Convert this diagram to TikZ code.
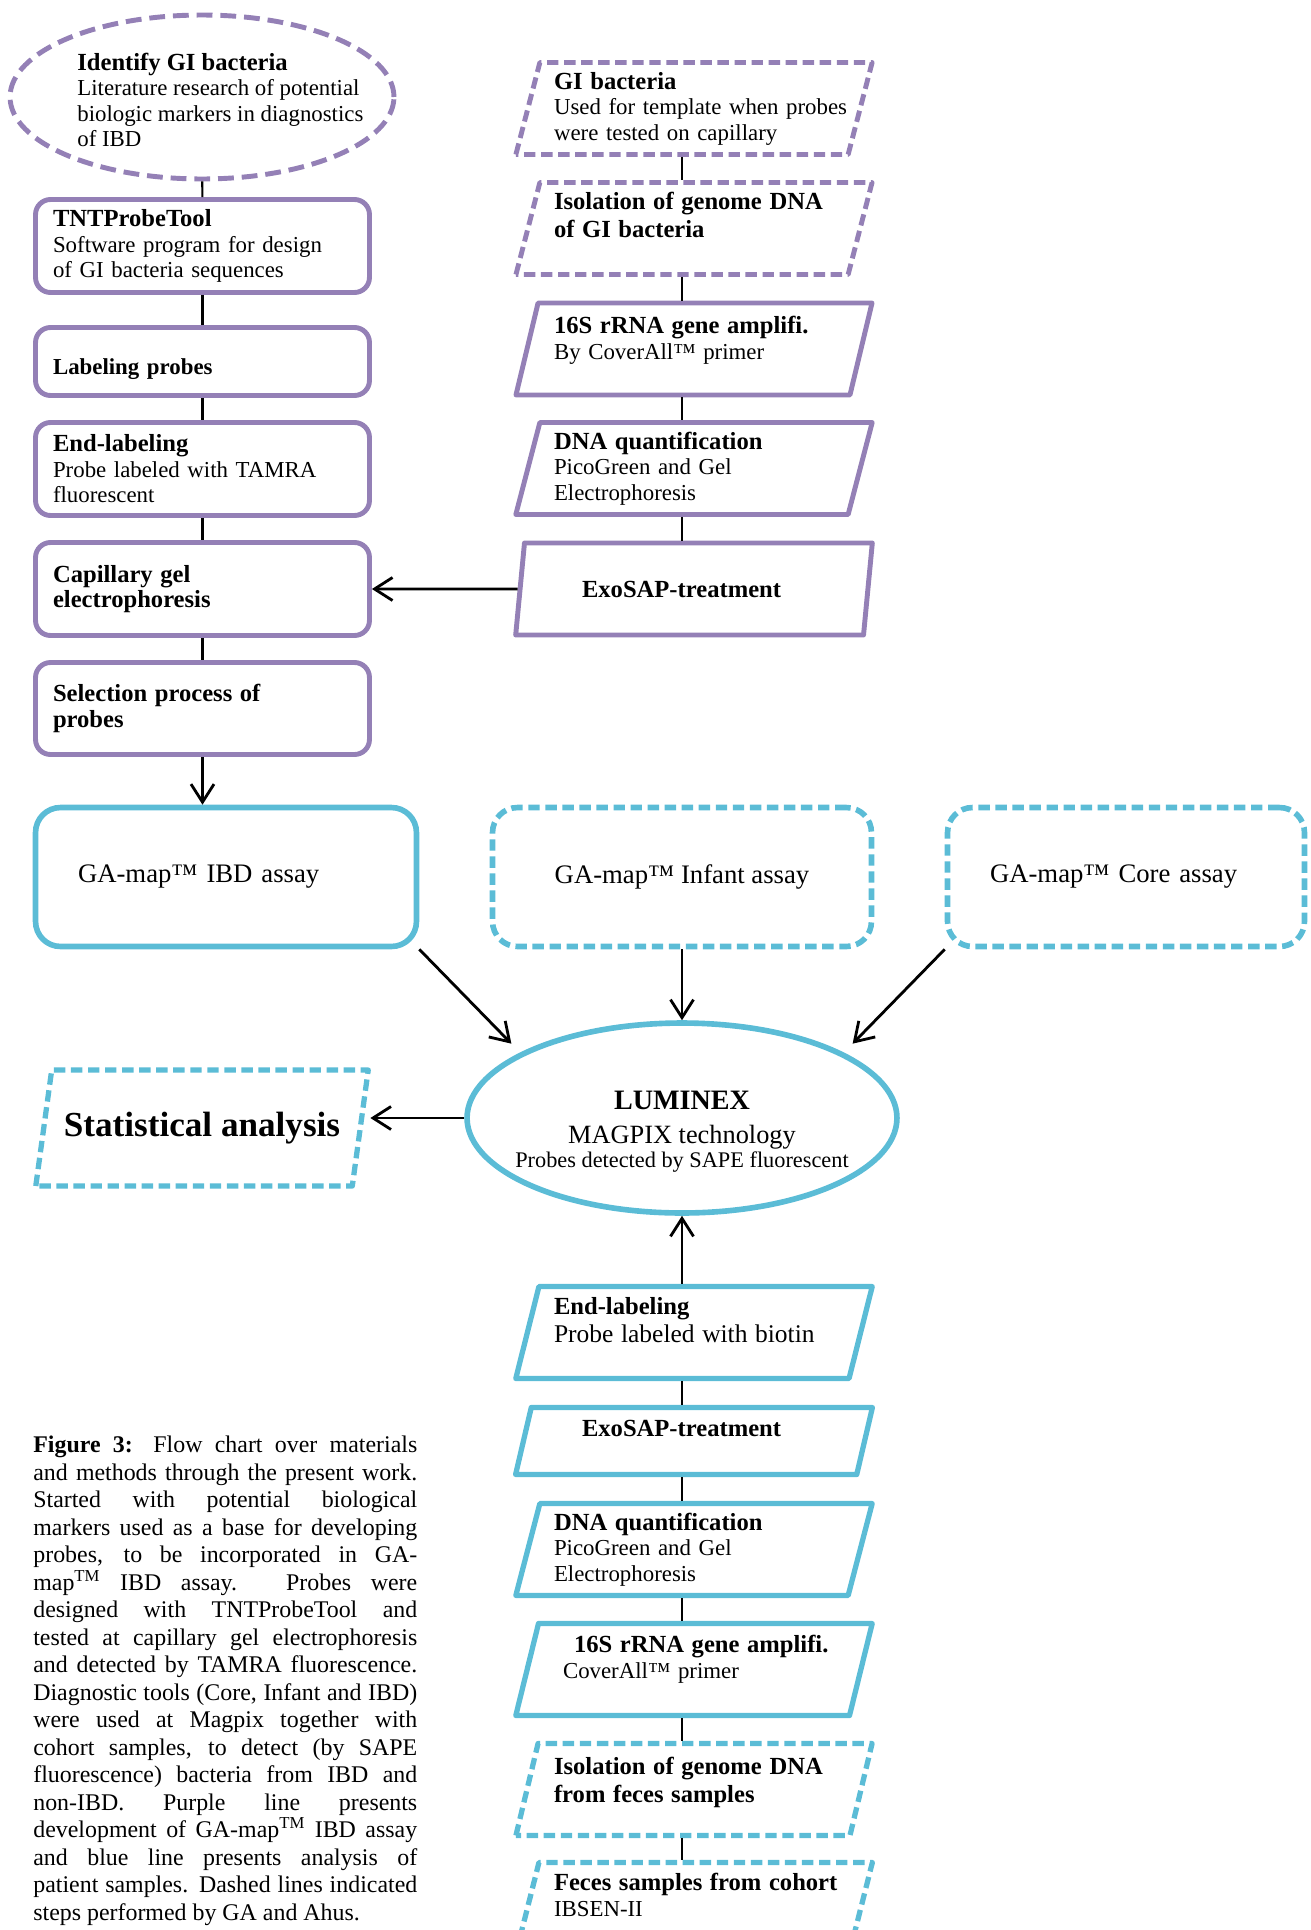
\documentclass[tikz,border=0pt]{standalone}
\usepackage{fontspec}
\setmainfont{Liberation Serif}
\usetikzlibrary{arrows.meta, shapes.geometric}
\definecolor{mypurple}{RGB}{148,128,182}
\definecolor{myblue}{RGB}{91,188,214}
\newcommand{\boxttl}{\fontsize{14}{16}\selectfont\bfseries}
\newcommand{\boxtxt}{\fontsize{13}{14.5}\selectfont}
% empty last line, lifts the text of a box
\newcommand{\liftup}[1]{\\[#1]\mbox{}}
\tikzset{
  >={Straight Barb[length=0.36cm,width=0.46cm]},
  stepbox/.style={draw=mypurple, line width=2.8pt, rounded corners=0.3cm, minimum width=6.68cm, minimum height=1.86cm, text width=5.98cm, inner sep=0pt, align=left, font=\boxtxt},
  pgram/.style={trapezium, trapezium left angle=75, trapezium right angle=105, trapezium stretches=true, line join=round, minimum width=7.14cm, minimum height=1.84cm, text width=5.6cm, align=left, font=\boxtxt},
  purplestep/.style={pgram, draw=mypurple, line width=2.8pt},
  bluestep/.style={pgram, draw=myblue, line width=3pt},
  ga/.style={dash pattern=on 6.5pt off 3.2pt},
  assay/.style={draw=myblue, line width=3.2pt, rounded corners=0.5cm, minimum height=2.78cm, inner sep=0pt, font=\fontsize{15.2}{18}\selectfont},
  link/.style={line width=1.2pt},
  arr/.style={->, line width=1.6pt}
}

\begin{document}
\begin{tikzpicture}[x=0.02cm, y=-0.02cm]
    \useasboundingbox (0,0) rectangle (1311,1930);
    \clip (0,0) rectangle (1311,1930);

    % Identify GI bacteria
    \node[ellipse, draw=mypurple, line width=2.8pt, dash pattern=on 9pt off 4.5pt, minimum width=7.68cm, minimum height=3.28cm] (identify) at (202,97) {};
    \node[anchor=west, align=left, font=\boxtxt, inner sep=0pt] (identifytxt) at (77,100) {{\boxttl Identify GI bacteria}\\Literature research of potential\\biologic markers in diagnostics\\of IBD};

    % probe design (purple, left)
    \node[stepbox] (tnt) at (202.5,246) {{\boxttl TNTProbeTool}\\Software program for design\\of GI bacteria sequences};
    \node[stepbox, minimum height=1.36cm] (labeling) at (202.5,361.5) {\mbox{}\\[3.4pt]\fontsize{13}{15}\selectfont\bfseries Labeling probes};
    \node[stepbox] (endtamra) at (202.5,469) {{\boxttl End-labeling}\\Probe labeled with TAMRA\\fluorescent};
    \node[stepbox] (capillary) at (202.5,589) {\boxttl Capillary gel\\electrophoresis};
    \node[stepbox, minimum height=1.84cm] (selection) at (202.5,708.5) {\boxttl Selection process of\\probes};

    % GI bacteria template (purple, right)
    \node[purplestep, ga] (gibact) at (694,108.5) {{\boxttl GI bacteria}\\\mbox{Used for template when probes}\\were tested on capillary};
    \node[purplestep, ga] (isogi) at (694,228.5) {\boxttl Isolation of genome DNA\\of GI bacteria\liftup{1pt}};
    \node[purplestep] (ampgi) at (694,349) {{\boxttl 16S rRNA gene amplifi.}\\By CoverAll™ primer\liftup{-1.7pt}};
    \node[purplestep] (quantgi) at (694,468.5) {{\boxttl DNA quantification}\\PicoGreen and Gel\\Electrophoresis};
    \node[purplestep] (exogi) at (694,589) {\hspace*{0.56cm}\boxttl ExoSAP-treatment};

    % GA-map assays
    \node[assay, minimum width=7.62cm, text width=5.92cm, align=left] (ibd) at (226,877) {GA-map™ IBD assay};
    \node[assay, ga, minimum width=7.58cm] (infant) at (682,877) {GA-map™ Infant assay};
    \node[assay, ga, minimum width=7.14cm, text width=5.44cm, align=left] (core) at (1126,877) {GA-map™ Core assay};

    % LUMINEX
    \node[ellipse, draw=myblue, line width=3.2pt, minimum width=8.6cm, minimum height=3.8cm] (luminex) at (682,1118) {};
    \node[align=center, inner sep=0pt] (luminextxt) at (682,1132) {{\fontsize{16}{19}\selectfont\bfseries LUMINEX}\\[7pt]{\fontsize{15}{18}\selectfont MAGPIX technology}\\[1pt]{\fontsize{12.7}{15}\selectfont Probes detected by SAPE fluorescent}};

    % statistics
    \node[trapezium, trapezium left angle=74, trapezium right angle=106, trapezium stretches=true, line join=round, draw=myblue, line width=3pt, ga, minimum width=6.66cm, minimum height=2.32cm, inner xsep=-0.4cm, font=\fontsize{20}{24}\selectfont\bfseries] (stat) at (202,1128) {Statistical analysis};

    % patient samples (blue, bottom)
    \node[bluestep] (endbiotin) at (694,1332.5) {{\boxttl End-labeling}\\\fontsize{14.5}{16}\selectfont Probe labeled with biotin\liftup{-0.6pt}};
    \node[bluestep, minimum height=1.34cm] (exopat) at (694,1441) {\hspace*{0.56cm}\boxttl ExoSAP-treatment\liftup{-0.6pt}};
    \node[bluestep] (quantpat) at (694,1549.5) {{\boxttl DNA quantification}\\PicoGreen and Gel\\Electrophoresis};
    \node[bluestep] (amppat) at (694,1669.5) {\hspace*{0.4cm}{\boxttl 16S rRNA gene amplifi.}\\\hspace*{0.18cm}CoverAll™ primer\liftup{-0.3pt}};
    \node[bluestep, ga] (isopat) at (694,1789.5) {\boxttl Isolation of genome DNA\\from feces samples\liftup{-3.1pt}};
    \node[bluestep, ga] (feces) at (694,1908.5) {{\boxttl \mbox{Feces samples from cohort}}\\IBSEN-II\liftup{1pt}};

    % links
    \draw[link] (identify) -- (tnt);
    \draw[link] (tnt) -- (labeling);
    \draw[link] (labeling) -- (endtamra);
    \draw[link] (endtamra) -- (capillary);
    \draw[link] (capillary) -- (selection);
    \draw[link] (gibact.south -| infant) -- (isogi.north -| infant);
    \draw[link] (isogi.south -| infant) -- (ampgi.north -| infant);
    \draw[link] (ampgi.south -| infant) -- (quantgi.north -| infant);
    \draw[link] (quantgi.south -| infant) -- (exogi.north -| infant);
    \draw[link] (endbiotin.south -| infant) -- (exopat.north -| infant);
    \draw[link] (exopat.south -| infant) -- (quantpat.north -| infant);
    \draw[link] (quantpat.south -| infant) -- (amppat.north -| infant);
    \draw[link] (amppat.south -| infant) -- (isopat.north -| infant);
    \draw[link] (isopat.south -| infant) -- (feces.north -| infant);

    % arrows
    \draw[arr] (exogi.west) -- (capillary.east);
    \draw[arr] (selection.south) -- (selection.south |- ibd.north);
    \draw[arr, shorten >=0.25cm] (ibd.south east) -- (luminex.158);
    \draw[arr] (infant) -- (luminex);
    \draw[arr, shorten >=0.25cm] (core.south west) -- (luminex.22);
    \draw[arr, shorten >=0.15cm] (luminex.west) -- (luminex.west -| stat.east);
    \draw[arr] (endbiotin.north -| luminex) -- (luminex.south);

    % caption
    \node[anchor=north west, text width=7.68cm, align=justify, inner sep=0pt, font=\fontsize{13.6}{15.65}\selectfont] (caption) at (33,1436) {\tolerance=10000 \textbf{Figure 3:} Flow chart over materials\linebreak and methods through the present work.\linebreak Started with potential biological\linebreak markers used as a base for developing\linebreak probes, to be incorporated in GA-\linebreak map\textsuperscript{TM} IBD assay. Probes were\linebreak designed with TNTProbeTool and\linebreak tested at capillary gel electrophoresis\linebreak and detected by TAMRA fluorescence.\linebreak Diagnostic tools (Core, Infant and IBD)\linebreak were used at Magpix together with\linebreak cohort samples, to detect (by SAPE\linebreak fluorescence) bacteria from IBD and\linebreak non-IBD. Purple line presents\linebreak development of GA-map\textsuperscript{TM} IBD assay\linebreak and blue line presents analysis of\linebreak patient samples. Dashed lines indicated\linebreak steps performed by GA and Ahus.};
\end{tikzpicture}
\end{document}
